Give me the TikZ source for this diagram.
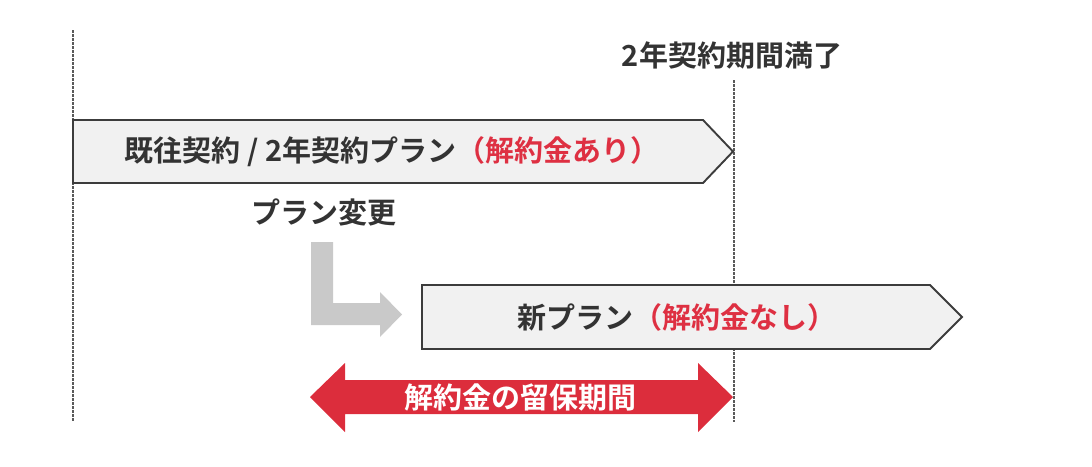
\documentclass[tikz,border=0pt]{standalone}
\usepackage{fontspec}
\setmainfont{Noto Sans CJK JP}[BoldFont={Noto Sans CJK JP Bold}]
\definecolor{boxfill}{HTML}{F1F1F1}
\definecolor{boxline}{HTML}{3C3C3C}
\definecolor{dashc}{HTML}{5A5A5A}
\definecolor{redtxt}{HTML}{DE3042}
\definecolor{redarr}{HTML}{DC2D3C}
\definecolor{grayarr}{HTML}{C9C9C9}
\definecolor{txt}{HTML}{333333}
\tikzset{
  guide/.style={draw=dashc, line width=1.3pt, dash pattern=on 2.5pt off 1.5pt},
  planbox/.style={fill=boxfill, draw=boxline, line width=1.9pt, line join=miter},
  lbl/.style={font=\fontsize{29}{34}\selectfont\bfseries, text=txt, inner sep=0pt, anchor=center},
  redlbl/.style={text=redtxt}
}
\begin{document}
\begin{tikzpicture}[x=1pt,y=-1pt]
\useasboundingbox (0,0) rectangle (1092,466);
% guide lines
\coordinate (g1t) at (73,30);
\coordinate (g1b) at (73,422);
\coordinate (g2t) at (734,80);
\coordinate (g2b) at (734,422);
\draw[guide] (g1t) -- (g1b);
\draw[guide] (g2t) -- (g2b);
% label top
\node[lbl] (end) at (732,55) {2年契約期間満了};
% old plan box
\draw[planbox] (73,120) -- (703,120) -- (733,151.5) -- (703,183) -- (73,183) -- cycle;
\node[lbl] (old) at (392,152) {既往契約 / 2年契約プラン{\color{redtxt}（解約金あり）}};
% plan change
\node[lbl] (chg) at (324,212) {プラン変更};
% gray L arrow
\fill[grayarr] (311,242) -- (333,242) -- (333,303) -- (380,303) -- (380,292) -- (402,314.5) -- (380,337) -- (380,325) -- (311,325) -- cycle;
% new plan box
\draw[planbox] (422,285) -- (930,285) -- (962,317) -- (930,349) -- (422,349) -- cycle;
\node[lbl] (new) at (677,317) {新プラン{\color{redtxt}（解約金なし）}};
% red double arrow
\fill[redarr] (310,397) -- (345,363) -- (345,380) -- (698,380) -- (698,363) -- (733,397) -- (698,432) -- (698,414) -- (345,414) -- (345,432) -- cycle;
\node[lbl, text=white] (hold) at (520,397) {解約金の留保期間};
\end{tikzpicture}
\end{document}
